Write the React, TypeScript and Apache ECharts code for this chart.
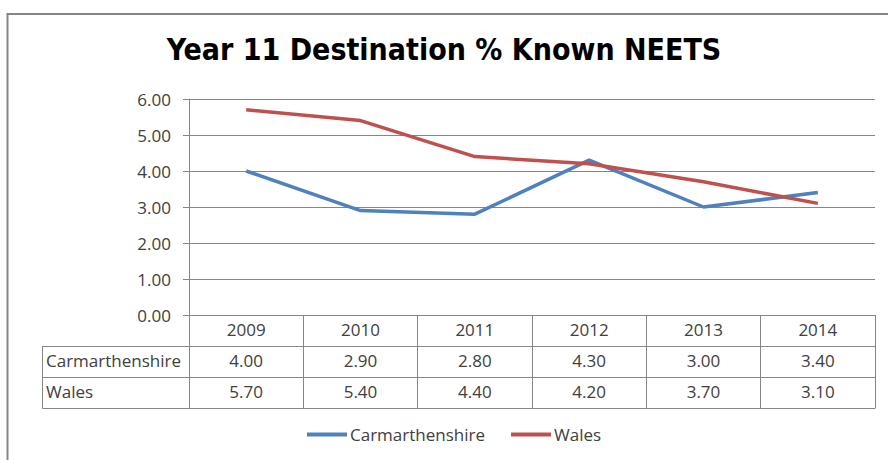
import React, { useEffect, useRef } from "react";
import * as echarts from "echarts";

const years = ["2009", "2010", "2011", "2012", "2013", "2014"];
const carmarthenshire = [4.0, 2.9, 2.8, 4.3, 3.0, 3.4];
const wales = [5.7, 5.4, 4.4, 4.2, 3.7, 3.1];
const seriesNames = ["Carmarthenshire", "Wales"];
const titleText = "Year 11 Destination % Known NEETS";

const FONT = "'Open Sans', 'Noto Sans', sans-serif";
const GRAY = "#868686";
const TEXT = "#404040";

export default function App() {
  const ref = useRef<HTMLDivElement>(null);
  useEffect(() => {
    if (!ref.current) return;
    const chart = echarts.init(ref.current, undefined, { renderer: "svg" });
    const gridLeft = 189;
    const gridRight = 875;
    const gridTop = 99;
    const gridBottom = 315;
    const rowH = 31;

    const valueAxis = (values: number[], idx: number, name: string) => ({
      type: "category",
      data: values.map((v) => v.toFixed(2)),
      position: "bottom",
      offset: rowH * idx,
      boundaryGap: true,
      axisLine: { show: true, lineStyle: { color: GRAY, width: 1 } },
      axisTick: { show: false },
      axisLabel: { show: true, color: TEXT, fontFamily: FONT, fontSize: 17, margin: 6, interval: 0 },
      splitLine: { show: false },
      name,
      nameLocation: "start",
      nameGap: gridLeft - 46,
      nameTextStyle: {
        color: TEXT,
        fontFamily: FONT,
        fontSize: 17,
        align: "left",
        verticalAlign: "top",
        padding: [6, 0, 0, 0],
      },
    });

    chart.setOption({
      animation: false,
      backgroundColor: "#fff",
      title: {
        text: titleText,
        left: "center",
        top: 34,
        padding: 0,
        textStyle: { fontFamily: "'Liberation Sans Narrow', 'DejaVu Sans Condensed', 'Open Sans', sans-serif", fontWeight: "bold", fontSize: 30, color: "#000" },
      },
      legend: {
        data: seriesNames,
        left: 307,
        top: 426,
        padding: 0,
        icon: "rect",
        itemWidth: 40,
        itemHeight: 4,
        itemGap: 26,
        textStyle: { color: TEXT, fontFamily: FONT, fontSize: 17, padding: [0, 0, 0, -2] },
      },
      grid: {
        left: gridLeft,
        right: 888 - gridRight,
        top: gridTop,
        bottom: 460 - gridBottom,
        containLabel: false,
      },
      xAxis: [
        {
          type: "category",
          data: years,
          position: "bottom",
          boundaryGap: true,
          axisLine: { show: true, lineStyle: { color: GRAY, width: 1 } },
          axisTick: { show: true, length: rowH * 3, interval: 0, lineStyle: { color: GRAY, width: 1 } },
          axisLabel: { color: TEXT, fontFamily: FONT, fontSize: 17, margin: 6, interval: 0 },
          splitLine: { show: false },
        },
        valueAxis(carmarthenshire, 1, seriesNames[0]),
        valueAxis(wales, 2, seriesNames[1]),
        {
          type: "category",
          data: years,
          position: "bottom",
          offset: rowH * 3,
          axisLine: { show: true, lineStyle: { color: GRAY, width: 1 } },
          axisTick: { show: false },
          axisLabel: { show: false },
          splitLine: { show: false },
        },
      ],
      yAxis: {
        type: "value",
        min: 0,
        max: 6,
        interval: 1,
        axisLine: { show: true, lineStyle: { color: GRAY, width: 1 } },
        axisTick: { show: true, length: 6, lineStyle: { color: GRAY } },
        axisLabel: { color: TEXT, fontFamily: FONT, fontSize: 17, margin: 18, formatter: (v: number) => v.toFixed(2) },
        splitLine: { show: true, lineStyle: { color: GRAY, width: 1 } },
      },
      series: [
        {
          name: seriesNames[0],
          type: "line",
          data: carmarthenshire,
          xAxisIndex: 0,
          symbol: "none",
          lineStyle: { color: "#4F81BD", width: 3.5 },
          itemStyle: { color: "#4F81BD" },
        },
        {
          name: seriesNames[1],
          type: "line",
          data: wales,
          xAxisIndex: 0,
          symbol: "none",
          lineStyle: { color: "#C0504D", width: 3.5 },
          itemStyle: { color: "#C0504D" },
        },
      ],
      graphic: [
        {
          type: "rect",
          shape: { x: 7.5, y: 14, width: 900, height: 500 },
          style: { fill: "none", stroke: GRAY, lineWidth: 2 },
          silent: true,
        },
        ...[1, 2, 3].map((i) => ({
          type: "line",
          shape: { x1: 42.5, y1: gridBottom + rowH * i + 0.5, x2: gridLeft, y2: gridBottom + rowH * i + 0.5 },
          style: { stroke: GRAY, lineWidth: 1 },
          silent: true,
        })),
        {
          type: "line",
          shape: { x1: 42.5, y1: gridBottom + rowH, x2: 42.5, y2: gridBottom + rowH * 3 + 0.5 },
          style: { stroke: GRAY, lineWidth: 1 },
          silent: true,
        },
      ],
    });
    return () => chart.dispose();
  }, []);
  return (
    <div
      ref={ref}
      style={{ position: "fixed", left: 0, top: 0, width: 888, height: 460, background: "#fff" }}
    />
  );
}
